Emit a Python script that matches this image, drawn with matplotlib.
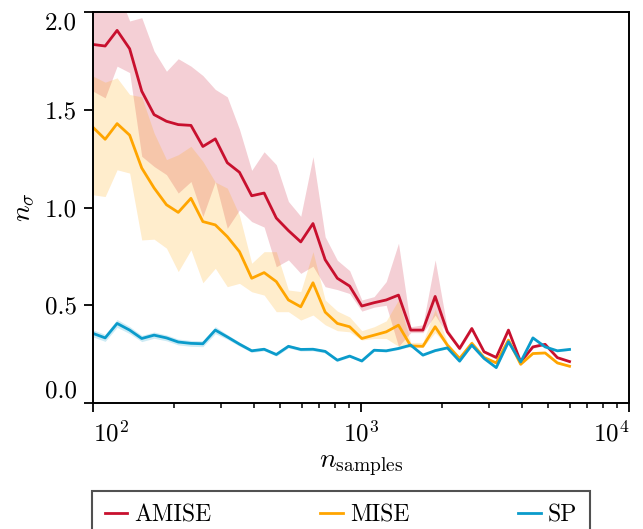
import numpy as np
import matplotlib
matplotlib.use("Agg")
import matplotlib.pyplot as plt

plt.rcParams['font.family'] = 'cmr10'
plt.rcParams['mathtext.fontset'] = 'cm'
plt.rcParams['axes.formatter.use_mathtext'] = True
plt.rcParams['font.size'] = 16

# sample sizes (log spaced)
n_samples = [100, 111, 123, 137, 152, 169, 188, 208, 232, 257,
             286, 317, 352, 391, 435, 483, 536, 596, 662, 735,
             816, 907, 1007, 1119, 1242, 1380, 1533, 1702, 1891, 2100,
             2333, 2591, 2878, 3196, 3550, 3943, 4380, 4865, 5404, 6000]

amise = [1.834, 1.826, 1.906, 1.812, 1.595, 1.475, 1.441, 1.424, 1.420, 1.312,
         1.351, 1.229, 1.180, 1.060, 1.074, 0.946, 0.882, 0.824, 0.918, 0.733,
         0.638, 0.598, 0.496, 0.513, 0.527, 0.552, 0.373, 0.373, 0.545, 0.364,
         0.279, 0.381, 0.262, 0.233, 0.373, 0.210, 0.287, 0.300, 0.232, 0.212]
amise_lo = [1.595, 1.561, 1.723, 1.690, 1.262, 1.210, 1.168, 1.074, 1.133, 0.954,
            1.133, 0.894, 0.988, 0.928, 0.900, 0.697, 0.732, 0.663, 0.700, 0.595,
            0.580, 0.560, 0.470, 0.490, 0.500, 0.290, 0.360, 0.360, 0.450, 0.350,
            0.270, 0.370, 0.255, 0.225, 0.365, 0.205, 0.280, 0.295, 0.228, 0.208]
amise_hi = [2.100, 2.080, 2.120, 1.954, 1.971, 1.800, 1.697, 1.761, 1.723, 1.675,
            1.604, 1.566, 1.400, 1.190, 1.285, 1.219, 1.031, 0.955, 1.260, 0.850,
            0.730, 0.677, 0.527, 0.544, 0.621, 0.817, 0.390, 0.400, 0.732, 0.380,
            0.290, 0.390, 0.270, 0.240, 0.380, 0.215, 0.290, 0.305, 0.235, 0.215]

mise = [1.410, 1.349, 1.429, 1.370, 1.202, 1.100, 1.014, 0.975, 1.047, 0.928,
        0.911, 0.851, 0.774, 0.638, 0.667, 0.621, 0.527, 0.492, 0.615, 0.465,
        0.407, 0.390, 0.330, 0.347, 0.364, 0.398, 0.292, 0.290, 0.390, 0.296,
        0.228, 0.305, 0.233, 0.205, 0.322, 0.198, 0.253, 0.256, 0.205, 0.188]
mise_lo = [1.065, 1.056, 1.193, 1.176, 0.834, 0.838, 0.792, 0.672, 0.783, 0.615,
           0.689, 0.595, 0.612, 0.569, 0.552, 0.467, 0.467, 0.424, 0.450, 0.400,
           0.370, 0.364, 0.322, 0.330, 0.330, 0.290, 0.285, 0.285, 0.360, 0.290,
           0.222, 0.300, 0.228, 0.200, 0.315, 0.193, 0.250, 0.252, 0.200, 0.184]
mise_hi = [1.672, 1.641, 1.663, 1.578, 1.566, 1.381, 1.245, 1.270, 1.313, 1.236,
           1.130, 1.099, 0.960, 0.715, 0.774, 0.774, 0.578, 0.570, 0.774, 0.527,
           0.470, 0.440, 0.370, 0.390, 0.420, 0.527, 0.310, 0.310, 0.480, 0.310,
           0.235, 0.320, 0.240, 0.210, 0.330, 0.203, 0.258, 0.260, 0.210, 0.192]

sp = [0.356, 0.333, 0.407, 0.373, 0.330, 0.347, 0.333, 0.312, 0.305, 0.303,
      0.373, 0.338, 0.301, 0.267, 0.275, 0.248, 0.290, 0.274, 0.275, 0.264,
      0.219, 0.240, 0.215, 0.270, 0.267, 0.279, 0.296, 0.245, 0.268, 0.282,
      0.214, 0.296, 0.228, 0.181, 0.313, 0.210, 0.333, 0.287, 0.267, 0.274]
sp_err = [0.018, 0.018, 0.020, 0.018, 0.016, 0.016, 0.015, 0.015, 0.015, 0.015,
          0.018, 0.012, 0.010, 0.008, 0.008, 0.008, 0.008, 0.008, 0.008, 0.008,
          0.006, 0.006, 0.006, 0.006, 0.006, 0.006, 0.006, 0.005, 0.005, 0.005,
          0.005, 0.005, 0.005, 0.005, 0.005, 0.005, 0.005, 0.005, 0.005, 0.005]

c_amise = '#c8102e'
c_mise = '#ffa500'
c_sp = '#0a9bcb'

fig = plt.figure(figsize=(6.43, 5.29), dpi=100)
ax = fig.add_axes([93/643, 1 - 403/529, (629 - 93)/643, (403 - 12)/529])

x = np.array(n_samples)
ax.fill_between(x, amise_lo, amise_hi, color=c_amise, alpha=0.2, lw=0)
ax.plot(x, amise, color=c_amise, lw=2.0, label='AMISE')
ax.fill_between(x, mise_lo, mise_hi, color=c_mise, alpha=0.2, lw=0)
ax.plot(x, mise, color=c_mise, lw=2.0, label='MISE')
sp_a = np.array(sp)
ax.fill_between(x, sp_a - np.array(sp_err), sp_a + np.array(sp_err), color=c_sp, alpha=0.2, lw=0)
ax.plot(x, sp, color=c_sp, lw=2.0, label='SP')

ax.set_xscale('log')
ax.set_xlim(100, 10000)
ax.set_ylim(0, 2.0)
ax.set_xticks([1e2, 1e3, 1e4])
ax.set_yticks([0.0, 0.5, 1.0, 1.5, 2.0])
ax.set_yticklabels(['0.0', '0.5', '1.0', '1.5', '2.0'])

for s in ax.spines.values():
    s.set_linewidth(1.4)
ax.tick_params(which='major', length=6.5, width=1.3, labelsize=18)
ax.tick_params(axis='x', which='major', pad=6)
ax.tick_params(axis='y', which='major', pad=5)
ax.tick_params(which='minor', length=3.5, width=1.1)

ax.set_xlabel(r'$n_{\mathrm{samples}}$', fontsize=20, labelpad=4)
ax.set_ylabel(r'$n_\sigma$', fontsize=20, labelpad=6)

fig.canvas.draw()
xl = ax.get_xticklabels()
xl[0].set_ha('left')
xl[-1].set_ha('right')
yl = ax.get_yticklabels()
yl[0].set_va('bottom')
yl[-1].set_va('top')

leg = fig.legend(loc='upper left', bbox_to_anchor=(92/643, 1 - 491/529, 498/643, 0),
                 mode='expand', ncol=3, borderaxespad=0, fancybox=False, fontsize=17,
                 handlelength=0.95, handletextpad=0.3, borderpad=0.55)
leg.get_frame().set_edgecolor('0.15')
leg.get_frame().set_linewidth(1.5)

fig.savefig('out.png', dpi=100)
